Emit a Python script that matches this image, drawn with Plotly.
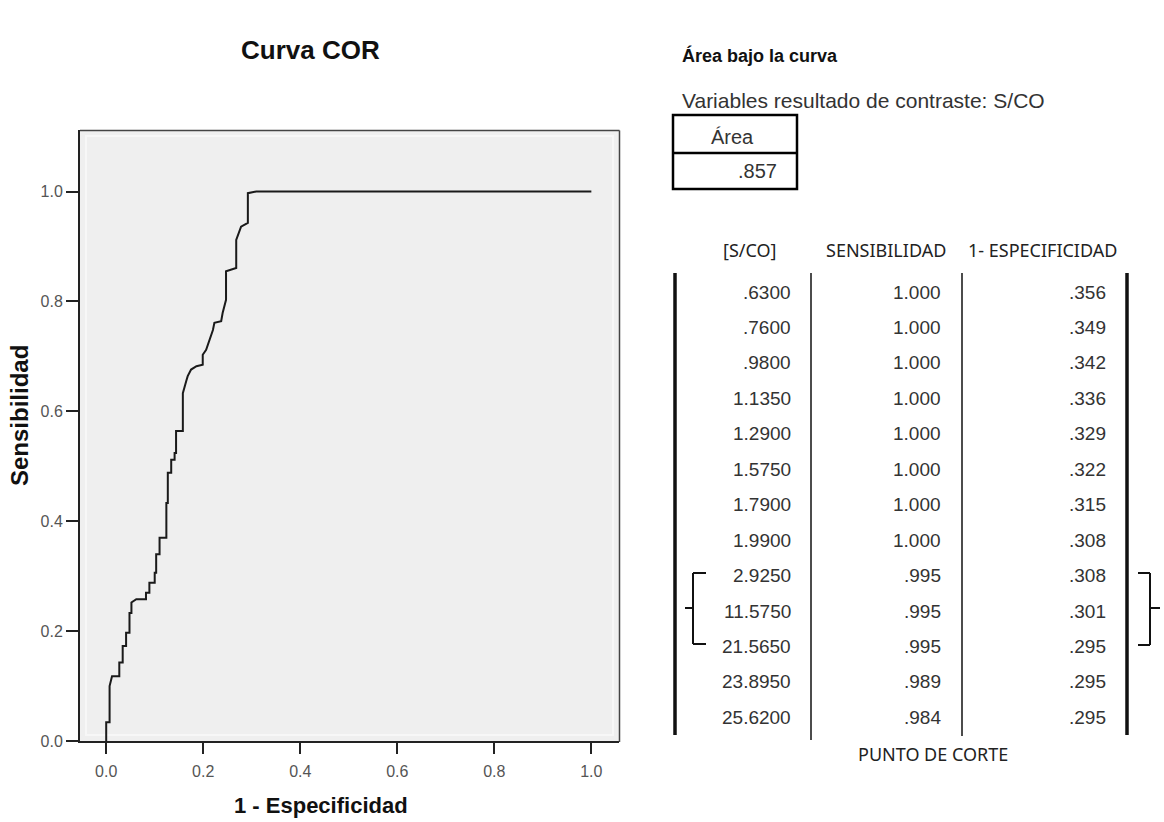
import plotly.graph_objects as go

# ---- ROC curve data ----
fpr = [0, 0, 0.007, 0.007, 0.012, 0.027, 0.027, 0.034, 0.034, 0.041, 0.041, 0.048, 0.048,
       0.052, 0.052, 0.062, 0.082, 0.082, 0.089, 0.089, 0.1, 0.1, 0.103, 0.103, 0.11, 0.11,
       0.124, 0.124, 0.127, 0.127, 0.134, 0.134, 0.141, 0.141, 0.144, 0.144, 0.158, 0.158,
       0.165, 0.168, 0.175, 0.186, 0.199, 0.199, 0.206, 0.213, 0.22, 0.223, 0.237, 0.24,
       0.244, 0.247, 0.247, 0.268, 0.268, 0.275, 0.278, 0.292, 0.292, 0.309, 1.0]
tpr = [0, 0.034, 0.034, 0.1, 0.118, 0.118, 0.143, 0.143, 0.173, 0.173, 0.197, 0.197, 0.233,
       0.233, 0.252, 0.258, 0.258, 0.27, 0.27, 0.288, 0.288, 0.306, 0.306, 0.34, 0.34, 0.37,
       0.37, 0.433, 0.433, 0.488, 0.488, 0.512, 0.512, 0.524, 0.524, 0.564, 0.564, 0.633,
       0.655, 0.664, 0.676, 0.682, 0.685, 0.703, 0.712, 0.73, 0.748, 0.761, 0.764, 0.779,
       0.791, 0.803, 0.855, 0.861, 0.912, 0.93, 0.936, 0.943, 0.997, 1.0, 1.0]

x_ticks = [0.0, 0.2, 0.4, 0.6, 0.8, 1.0]
y_ticks = [0.0, 0.2, 0.4, 0.6, 0.8, 1.0]

area_value = ".857"
cut_sco = [".6300", ".7600", ".9800", "1.1350", "1.2900", "1.5750", "1.7900", "1.9900",
           "2.9250", "11.5750", "21.5650", "23.8950", "25.6200"]
cut_sens = ["1.000", "1.000", "1.000", "1.000", "1.000", "1.000", "1.000", "1.000",
            ".995", ".995", ".995", ".989", ".984"]
cut_fpr = [".356", ".349", ".342", ".336", ".329", ".322", ".315", ".308",
           ".308", ".301", ".295", ".295", ".295"]
col_headers = ["[S/CO]", "SENSIBILIDAD", "1- ESPECIFICIDAD"]

W, H = 1164, 822
L, R, T, B = 80, 545, 130, 81
PW, PH = W - L - R, H - T - B

def px(x):
    return (x - L) / PW

def py(y):
    return 1 - (y - T) / PH

FONT = "Liberation Sans, Arial, sans-serif"
FONT2 = "Noto Sans, Open Sans, sans-serif"

fig = go.Figure()
fig.add_trace(go.Scatter(x=fpr, y=tpr, mode="lines",
                         line=dict(color="#1a1a1a", width=2), showlegend=False,
                         hoverinfo="skip"))

shapes = []
# subtle inner lighter border of plot area
shapes.append(dict(type="rect", xref="paper", yref="paper", x0=px(86), x1=px(613),
                   y0=py(735), y1=py(136), line=dict(color="#f7f7f7", width=2), layer="below"))
# outer frame top & right
shapes.append(dict(type="line", xref="paper", yref="paper", x0=px(80), x1=px(619.5),
                   y0=py(130.5), y1=py(130.5), line=dict(color="#444", width=1.5)))
shapes.append(dict(type="line", xref="paper", yref="paper", x0=px(619.5), x1=px(619.5),
                   y0=py(130.5), y1=py(742), line=dict(color="#444", width=1.5)))

# Area box
shapes.append(dict(type="rect", xref="paper", yref="paper", x0=px(673), x1=px(797),
                   y0=py(189), y1=py(115), line=dict(color="black", width=2.5)))
shapes.append(dict(type="line", xref="paper", yref="paper", x0=px(673), x1=px(797),
                   y0=py(153), y1=py(153), line=dict(color="black", width=2.5)))

# table vertical lines
for xv, wv, y1 in [(675, 3.5, 735), (811, 1.5, 740), (962, 1.5, 736), (1127, 3.5, 735)]:
    shapes.append(dict(type="line", xref="paper", yref="paper", x0=px(xv), x1=px(xv),
                       y0=py(273), y1=py(y1), line=dict(color="#111", width=wv)))

# brackets
brk = dict(color="#111", width=2)
def seg(x0, y0, x1, y1):
    shapes.append(dict(type="line", xref="paper", yref="paper", x0=px(x0), x1=px(x1),
                       y0=py(y0), y1=py(y1), line=brk))
seg(693, 573, 693, 644); seg(693, 573, 706, 573); seg(693, 644, 706, 644); seg(685, 608, 693, 608)
seg(1150, 573, 1150, 645); seg(1138, 573, 1150, 573); seg(1138, 645, 1150, 645); seg(1150, 608, 1160, 608)

ann = []
def text(x, y, s, size=15, color="#333", anchor="left", bold=False, font=FONT, angle=0):
    ann.append(dict(xref="paper", yref="paper", x=px(x), y=py(y), text=f"<b>{s}</b>" if bold else s,
                    showarrow=False, xanchor=anchor, yanchor="middle", textangle=angle,
                    font=dict(family=font, size=size, color=color)))

text(310, 50, "Curva COR", size=26, color="#111", anchor="center", bold=True)
text(19, 416, "Sensibilidad", size=24, color="#111", anchor="center", bold=True, angle=-90)
text(321, 805, "1 - Especificidad", size=22, color="#111", anchor="center", bold=True)

text(680, 56, "Área bajo la curva", size=18, color="#111", bold=True)
text(680, 100, "Variables resultado de contraste: S/CO", size=21, color="#333")
text(732, 137, "Área", size=20, color="#333", anchor="center")
text(779, 171, area_value, size=20, color="#333", anchor="right")

text(750, 250, col_headers[0], size=18, color="#222", anchor="center", font=FONT2)
text(886, 250, col_headers[1], size=18, color="#222", anchor="center", font=FONT2)
text(1042, 250, col_headers[2], size=18, color="#222", anchor="center", font=FONT2)

row_y0, row_dy = 292, 35.45
for i in range(len(cut_sco)):
    yy = row_y0 + i * row_dy
    text(793, yy, cut_sco[i], size=19, anchor="right")
    text(943, yy, cut_sens[i], size=19, anchor="right")
    text(1108, yy, cut_fpr[i], size=19, anchor="right")

text(933, 754, "PUNTO DE CORTE", size=18, color="#222", anchor="center", font=FONT2)

fig.update_layout(
    width=W, height=H,
    margin=dict(l=L, r=R, t=T, b=B),
    paper_bgcolor="white", plot_bgcolor="#efefef",
    shapes=shapes, annotations=ann,
    xaxis=dict(range=[-0.054, 1.057], tickvals=x_ticks, tickformat=".1f",
               showgrid=False, zeroline=False, showline=True, linecolor="#222", linewidth=2,
               ticks="outside", ticklen=11, tickwidth=1.5, tickcolor="#222",
               ticklabelstandoff=4,
               tickfont=dict(family=FONT, size=16, color="#555")),
    yaxis=dict(range=[0, 1.112], tickvals=y_ticks, tickformat=".1f",
               showgrid=False, zeroline=False, showline=True, linecolor="#222", linewidth=2,
               ticks="outside", ticklen=12, tickwidth=1.5, tickcolor="#222",
               tickfont=dict(family=FONT, size=16, color="#555")),
)

fig.write_html("out.html")
